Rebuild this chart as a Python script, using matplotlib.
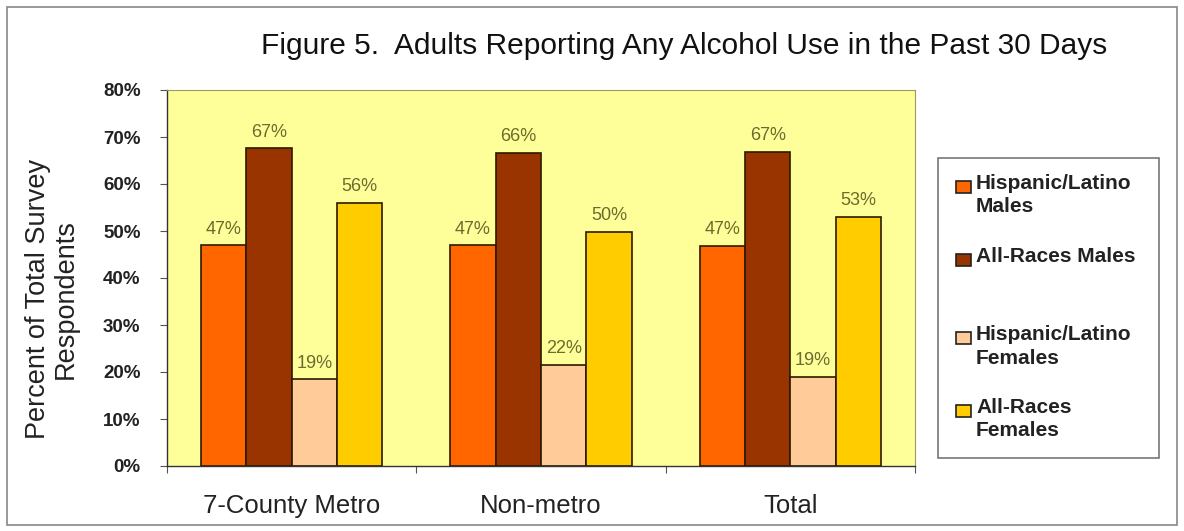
import matplotlib
matplotlib.use("Agg")
import matplotlib.pyplot as plt
import numpy as np
from matplotlib.patches import Rectangle

categories = ["7-County Metro", "Non-metro", "Total"]
series_names = ["Hispanic/Latino\nMales", "All-Races Males",
                "Hispanic/Latino\nFemales", "All-Races\nFemales"]
values = [
    [47.0, 47.0, 46.9],   # Hispanic/Latino Males
    [67.6, 66.6, 66.9],   # All-Races Males
    [18.5, 21.5, 19.0],   # Hispanic/Latino Females
    [56.0, 49.8, 53.0],   # All-Races Females
]
labels = [
    ["47%", "47%", "47%"],
    ["67%", "66%", "67%"],
    ["19%", "22%", "19%"],
    ["56%", "50%", "53%"],
]
colors = ["#FF6600", "#993300", "#FFCC99", "#FFCC00"]
yticks = [0, 10, 20, 30, 40, 50, 60, 70, 80]

plt.rcParams['font.family'] = ['Liberation Sans', 'DejaVu Sans']

W, H = 1184, 531
fig = plt.figure(figsize=(W / 100, H / 100), dpi=100)
fig.patch.set_facecolor("white")

ax = fig.add_axes([167 / W, 1 - 466 / H, (915 - 167) / W, (466 - 90) / H])
ax.set_facecolor("#FFFF99")

x = np.arange(len(categories))
bw = 0.182
for i, (vals, c) in enumerate(zip(values, colors)):
    pos = x + (i - 1.5) * bw
    ax.bar(pos, vals, width=bw, color=c, edgecolor="#2b1a00", linewidth=1.2,
           label=series_names[i], zorder=3)
    for p, v, lab in zip(pos, vals, labels[i]):
        ax.text(p, v + 1.6, lab, ha="center", va="bottom", fontsize=13,
                color="#6b6b2e", zorder=4)

ax.set_xlim(-0.5, 2.5)
ax.set_ylim(0, 80)
ax.set_yticks(yticks)
ax.set_yticklabels([f"{t}%" for t in yticks], fontsize=13.5, fontweight="bold",
                   color="#222222")
ax.set_xticks([-0.5, 0.5, 1.5, 2.5], minor=False)
ax.set_xticklabels([])
ax.set_xticks(x, minor=True)
ax.set_xticklabels(categories, minor=True, fontsize=18.5, color="#222222")
ax.tick_params(axis="x", which="minor", length=0, pad=20)
ax.tick_params(axis="x", which="major", length=5, direction="out", color="#555555")
ax.tick_params(axis="y", length=5, direction="out", color="#555555", pad=14)
for s in ["top", "right"]:
    ax.spines[s].set_color("#999966")
    ax.spines[s].set_linewidth(0.8)
for s in ["left", "bottom"]:
    ax.spines[s].set_color("#333333")
    ax.spines[s].set_linewidth(1.0)

fig.text(52 / W, 1 - 299 / H, "Percent of Total Survey\nRespondents", rotation=90,
         ha="center", va="center", fontsize=19.5, color="#222222", linespacing=1.05)

fig.text(684 / W, 1 - 46 / H, "Figure 5.  Adults Reporting Any Alcohol Use in the Past 30 Days",
         ha="center", va="center", fontsize=21.5, color="#111111")

# legend (drawn manually to follow the reference's uneven spacing)
leg_x0, leg_y0, leg_x1, leg_y1 = 938, 158, 1159, 458
entry_y = [185, 258, 336, 409]   # pixel y of first text line in each entry
fig.patches.append(Rectangle((leg_x0 / W, 1 - leg_y1 / H), (leg_x1 - leg_x0) / W,
                             (leg_y1 - leg_y0) / H, transform=fig.transFigure,
                             facecolor="white", edgecolor="#777777", linewidth=1.2))
for name, c, yy in zip(series_names, colors, entry_y):
    fig.patches.append(Rectangle((956 / W, 1 - (yy + 8) / H), 15 / W, 12 / H,
                                 transform=fig.transFigure, facecolor=c,
                                 edgecolor="#222222", linewidth=1.2))
    fig.text(976 / W, 1 - (yy - 11) / H, name, ha="left", va="top", fontsize=15,
             fontweight="bold", color="#222222", linespacing=1.3)

# outer border
fig.patches.append(Rectangle((7 / W, 6 / H), 1170 / W, 518 / H, transform=fig.transFigure,
                             fill=False, edgecolor="#888888", linewidth=1.2))

fig.savefig("out.png", dpi=100)
